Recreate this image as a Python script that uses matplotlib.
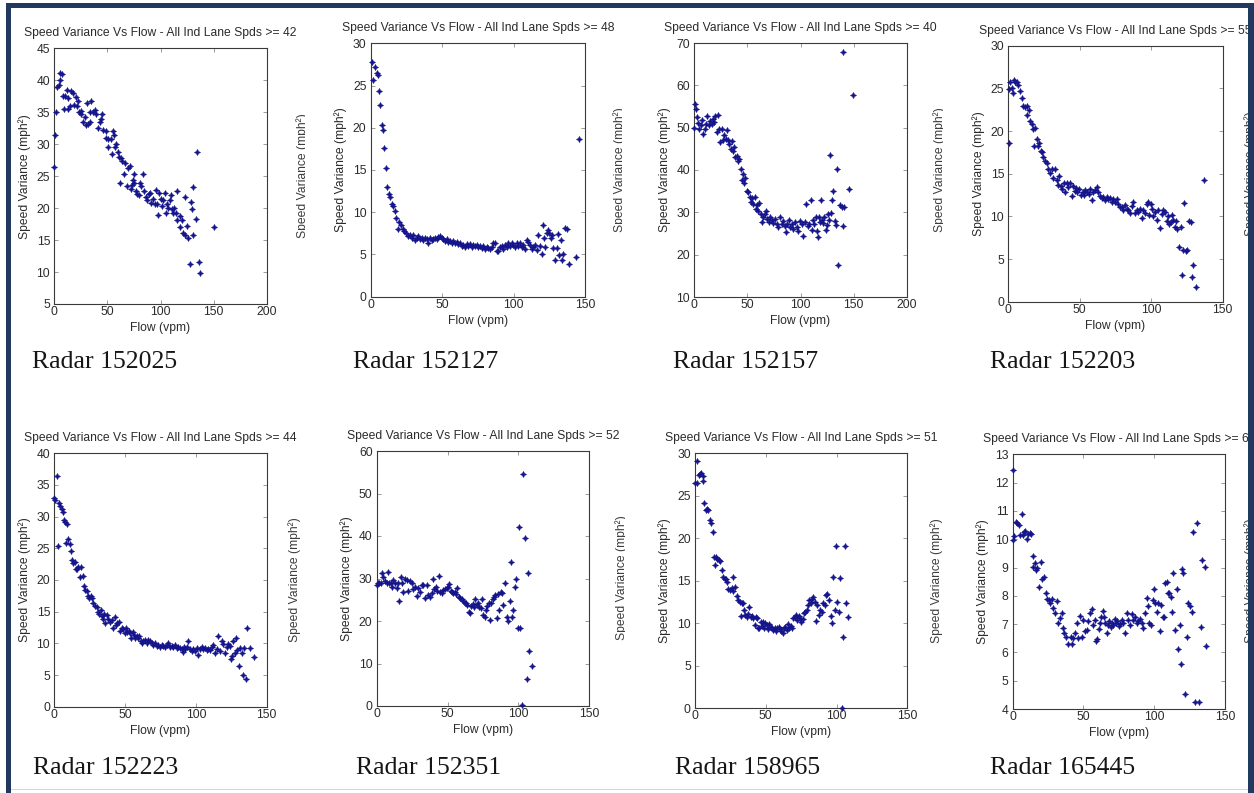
import numpy as np
import matplotlib
matplotlib.use('Agg')
import matplotlib.pyplot as plt
from matplotlib.patches import Rectangle
from matplotlib.transforms import Bbox, TransformedBbox

plt.rcParams['font.family'] = ['Liberation Sans', 'DejaVu Sans']

# ---- data ----
radars = ['152025', '152127', '152157', '152203', '152223', '152351', '158965', '165445']
spd_min = [42, 48, 40, 55, 44, 52, 51, 60]

flow_1 = [0, 0.5, 1.5, 3, 4, 5.5, 5, 7, 8.5, 10, 9.5, 11.5, 12.5, 13, 14.5, 16, 18, 18.5, 20, 21,
          22.5, 23.5, 25, 25.5, 27, 29, 30, 31, 32, 33.5, 35, 34, 36.5, 38, 39.5, 41, 43, 44.5, 44, 46,
          48.5, 49, 50.5, 50.5, 53, 54, 55.5, 56, 57, 58.5, 60, 61, 61.5, 63, 64, 65.5, 67, 68.5, 69.5, 71,
          72, 73, 74, 75.5, 75.5, 77, 78, 80, 81, 82, 83.5, 84.5, 86, 87, 89, 90, 91, 93, 94.5, 96,
          97, 98, 99, 100.5, 101.5, 102, 104, 105, 106, 107, 108.5, 109.5, 110.5, 111.5, 113, 114.5, 115.5, 116, 118, 118.5,
          120, 121, 123, 123.5, 125, 126, 128, 136, 137.5, 129, 130, 131, 131, 133, 134, 150.5]
var_1 = [26.5, 31.5, 35, 39, 39.3, 40, 41.2, 41, 37.5, 37.5, 35.5, 38.5, 37.2, 35.5, 36, 38.3, 38, 36.2, 37.4, 36,
         36.8, 35, 34.7, 35.2, 33.4, 34.3, 33, 36.5, 33.2, 33.4, 36.8, 35.1, 35, 35.3, 34.8, 32.5, 33.5, 34.8, 33.9, 32.2,
         32, 30.9, 30.8, 29.6, 30.8, 28.5, 32, 31.4, 29.6, 30.1, 28.8, 28, 24, 27.8, 27.3, 25.4, 27.1, 23.4, 26.2, 26.6,
         23, 23.6, 24.4, 25.4, 24, 22.6, 22.2, 22, 24, 23.4, 25.3, 22.6, 21.8, 21.3, 22.2, 22.4, 20.8, 21.4, 20.6, 22.8,
         20.7, 19, 22.3, 21.4, 20.4, 21.3, 22.4, 19.2, 20.6, 20, 21.3, 22.1, 19.8, 19.3, 20, 19.2, 22.7, 18.1, 18.7, 17,
         18.1, 16.1, 15.8, 21.8, 17.2, 15.3, 11.3, 11.5, 9.9, 20.9, 19.8, 23.3, 15.8, 18.3, 28.7, 17]

flow_2 = [0.7, 1.4, 3, 4.2, 5.4, 5.8, 6.8, 7.7, 8.4, 9.6, 10.7, 11.7, 12.8, 13.5, 14.7, 15.9, 17, 17.7, 18.9, 20,
          21.2, 22.4, 23.6, 24.7, 26.4, 27.5, 28.7, 29.9, 31, 32.2, 33.4, 34.5, 35.7, 36.9, 38, 39.2, 40.4, 41.5, 42.7, 43.9,
          45, 46.2, 47.4, 48.5, 49.7, 50.9, 52, 53.2, 54.4, 55.5, 56.7, 57.8, 59, 60.2, 61.4, 62.5, 63.7, 64.8, 66, 67.2,
          68.3, 69.5, 70.7, 71.8, 73, 74.2, 75.3, 76.5, 77.7, 78.8, 80, 81.2, 82.3, 83.5, 84.7, 85.8, 87, 88.2, 89.3, 90.5,
          91.7, 92.8, 94, 95.2, 96.3, 97.5, 98.7, 99.8, 101, 102.2, 103.3, 104.5, 105.7, 106.8, 108, 109.2, 110.3, 111.5, 112.6, 113.8,
          115, 116.1, 117.3, 118.5, 119.6, 120.4, 121.3, 122.2, 123.2, 124.1, 125, 126, 127.1, 127.8, 129, 130.2, 131.1, 132, 133, 133.7,
          134.8, 136, 137.2, 139, 143.7, 146]
var_2 = [27.8, 25.7, 27.2, 26.5, 26.2, 24.4, 22.7, 20.3, 19.7, 17.6, 15.2, 13, 12.2, 11.8, 11, 10.7, 10.2, 9.3, 8, 8.8,
         8.5, 8, 7.8, 7.5, 7.2, 7.3, 6.9, 7.3, 6.7, 7, 7.2, 6.8, 7, 6.7, 7, 6.8, 6.4, 6.9, 6.7, 6.8,
         7, 6.8, 7.1, 7.2, 7, 6.8, 6.6, 6.8, 6.5, 6.6, 6.4, 6.6, 6.3, 6.5, 6.2, 6.4, 6, 6.1, 5.9, 6.2,
         6, 6.2, 5.9, 6.1, 6, 6.1, 5.9, 6, 5.8, 6, 5.7, 5.9, 5.8, 5.6, 5.9, 6.3, 6.4, 5.4, 5.4, 5.9,
         6, 5.7, 6.1, 5.9, 6.3, 6, 6.4, 6.1, 5.9, 6.3, 6, 6.4, 5.9, 6.1, 5.7, 6.7, 6.5, 6.1, 5.7, 5.9,
         6.1, 5.5, 7.3, 6, 5, 8.5, 7, 5.9, 7.6, 7.9, 7.5, 6.9, 7.3, 5.8, 4.3, 5.8, 7.4, 4.9, 6.7, 4.3,
         5.1, 8.1, 8, 3.9, 4.7, 18.7]

flow_3 = [0, 0.6, 1.6, 2.2, 3.1, 4.7, 6.3, 7.5, 8.5, 10, 11, 12.2, 13.5, 14.8, 16.3, 17.3, 18.5, 19.8, 21, 22,
          23.2, 24.2, 25.7, 27.3, 28.3, 29.5, 30.5, 32, 33, 34.2, 35.2, 36.1, 37.4, 38.3, 39.9, 40.8, 42.4, 43.6, 44.6, 45.5,
          46.8, 48, 49.3, 50.9, 52.4, 53.4, 54.6, 55.6, 57.1, 58.1, 59.3, 60.3, 61.2, 62.5, 64, 65, 66.6, 67.5, 68.8, 70,
          71.3, 72.8, 74.4, 76, 77.6, 79.1, 80.7, 82.3, 83.8, 85.4, 86.3, 87.6, 89.2, 90.1, 91.7, 93.2, 94.8, 96.4, 97.9, 99.5,
          101.1, 102.7, 104.2, 105.2, 106.8, 108.3, 109.6, 110.5, 112.1, 113, 114.3, 115.2, 116.2, 117.1, 118.4, 119.3, 120.3, 121.5, 122.4, 123.7,
          124.6, 125.6, 126.8, 127.8, 128.8, 130, 131, 132.2, 133.1, 134.7, 135.6, 137.2, 138.8, 139.7, 140.3, 141, 146, 149.8]
var_3 = [50, 55.5, 54.5, 52.5, 51.1, 49.8, 50.6, 51.9, 48.6, 49.8, 50.8, 52.7, 50.6, 51.6, 50.8, 52.1, 51.3, 52.7, 49, 52.9,
         49.8, 46.6, 49.8, 47, 48.2, 47.4, 49.4, 47, 46.2, 45, 46.8, 44.6, 45.4, 43.1, 43.2, 42.1, 42.7, 40.3, 37.7, 39,
         36.9, 38, 35, 34.8, 33.6, 32.4, 33.5, 32, 33.6, 30.9, 31.7, 30.3, 32.2, 29.7, 27.7, 29, 29.7, 30.3, 28.5, 27.7,
         29, 28.1, 27.5, 28.5, 27.2, 26.5, 28.9, 27.2, 28, 26.7, 25.4, 27.2, 28.1, 26.5, 27.2, 26.1, 27.7, 26.5, 25.7, 28,
         27.2, 24.3, 27.7, 31.9, 26.7, 27.2, 33, 25.9, 28.1, 27.3, 28.9, 25.7, 24.2, 29, 27.7, 33, 28.3, 27.5, 29, 25.9,
         26.9, 29.7, 28.1, 43.6, 29.8, 32.8, 35, 28, 26.9, 40.3, 17.5, 31.7, 31.3, 26.7, 67.9, 31.3, 35.4, 57.8]

flow_4 = [0.5, 0.7, 1.2, 2.3, 3, 4, 4.9, 5.8, 6.8, 8.2, 9.3, 10.5, 11.7, 12.8, 13.3, 14.7, 15.2, 16.3, 17.5, 18.7,
          18.2, 19.8, 20.5, 21.7, 22.6, 23.6, 24.5, 25.7, 26.8, 28, 29.2, 30.3, 31.5, 32.7, 33.8, 35, 35.7, 36.6, 37.8, 39,
          39.9, 40.8, 42, 43.2, 44.3, 45, 46.4, 47.4, 48.3, 49.7, 50.6, 52, 52.9, 53.9, 55.3, 56.2, 57.1, 58.3, 59.5, 60.6,
          61.8, 62.7, 64.1, 65.3, 66.5, 67.6, 68.8, 70, 71.1, 72.3, 73.5, 74.6, 75.8, 77, 78.1, 79.3, 80.5, 81.6, 82.8, 84,
          85.1, 86.3, 87.5, 88.6, 89.8, 91, 92.1, 93.3, 94.5, 95.6, 96.8, 98, 98.7, 99.6, 100.3, 101.5, 102.6, 103.8, 105, 106.1,
          107.3, 108.5, 109.6, 110.8, 111.7, 112.7, 113.6, 114.5, 115.5, 116.6, 117.3, 118.3, 119.7, 120.6, 121.5, 122.5, 123.2, 124.3, 125.3, 126.7,
          127.6, 128.3, 129.5, 131.3, 137.2]
var_4 = [18.55, 24.9, 25.8, 25.1, 24.4, 26, 25.7, 25.8, 25.4, 24.7, 23.9, 22.9, 22.8, 22.9, 21.9, 22.5, 21.2, 20.8, 20.2, 20.3,
         18.2, 19.1, 18.2, 18.6, 17.7, 17.5, 17, 16.5, 16.3, 15.6, 15.1, 15.5, 14.5, 15.6, 14.3, 13.7, 14.7, 13.6, 13.2, 13.9,
         12.9, 13.9, 13.4, 13.9, 12.4, 13.5, 13, 13.3, 12.8, 13.2, 12.5, 12.8, 12.5, 13.1, 12.9, 12.6, 13.2, 11.9, 12.9, 13.1,
         13.4, 12.8, 12.4, 12.1, 12.3, 11.9, 12.3, 12, 12.1, 11.7, 12, 11.7, 12, 11.4, 11.1, 11.1, 10.8, 11.3, 10.9, 10.7,
         10.4, 11.2, 11.7, 10.4, 10.8, 10.5, 10.9, 9.8, 10.7, 10.4, 11.4, 11.7, 10.2, 11.5, 10.9, 10, 10.5, 9.6, 10.8, 8.6,
         10.3, 10.7, 10.5, 9.4, 10, 9.1, 9.3, 10.2, 9.6, 8.7, 9.5, 8.5, 6.4, 8.8, 3.1, 6.1, 11.6, 5.9, 6, 9.4,
         9.3, 2.9, 4.3, 1.7, 14.3]

flow_5 = [0, 0.7, 1.6, 2.4, 3.3, 4.2, 5.2, 6.1, 6.8, 7.5, 8.5, 9.2, 9.9, 10.8, 11.5, 12.5, 13.4, 14.6, 15.3, 16.2,
          17, 18.1, 18.8, 20, 21, 21.9, 22.8, 23.8, 24.7, 25.7, 26.6, 27.5, 28.7, 29.9, 31.1, 31.8, 32.7, 33.4, 34.1, 35.1,
          36, 37, 38.1, 39.3, 40.5, 41.7, 42.6, 43.6, 44.5, 45.4, 46.4, 47.6, 48.7, 49.9, 50.6, 51.6, 52.5, 53.4, 54.4, 55.3,
          56.3, 57.2, 58.2, 59.1, 60, 61, 61.9, 62.9, 64, 65.2, 66.4, 67.6, 68.8, 69.9, 71.1, 72.3, 73.5, 74.6, 75.8, 77,
          78.2, 79.3, 80.5, 81.7, 82.9, 84.1, 85.2, 86.4, 87.6, 88.8, 89.9, 90.7, 91.6, 92.5, 93.5, 94.7, 95.8, 97, 98.2, 99.4,
          100.5, 101.7, 102.9, 104.1, 105.2, 106.4, 107.6, 108.8, 110, 111.1, 112.3, 113.5, 114.7, 115.8, 117, 118.2, 119.4, 120.6, 121.7, 122.9,
          124.1, 124.8, 125.7, 126.4, 127.6, 128.3, 129.3, 130.2, 131.1, 132.3, 133.5, 134.2, 135.4, 136.3, 138.2, 141]
var_5 = [33, 32.7, 36.4, 25.3, 32.1, 31.7, 31.2, 30.8, 29.4, 29.1, 25.8, 28.8, 26.4, 25.7, 24.6, 23.1, 22.7, 22.9, 21.8, 21.7,
         22, 20.5, 22, 20.6, 19.1, 18.4, 18.2, 17.4, 17.1, 17.5, 17.1, 16.3, 15.9, 15.8, 15, 14.6, 15.2, 14.3, 13.8, 14.6,
         13.2, 14.5, 13.8, 13.3, 13.7, 12.5, 14.2, 12.9, 13.2, 13.4, 12, 12.5, 12.2, 11.7, 12.5, 11.8, 12, 11.7, 10.9, 11.8,
         11.3, 10.9, 11.2, 10.8, 11.1, 10.4, 10.1, 10.4, 10.6, 10.1, 10.6, 10.4, 10.1, 9.7, 10, 9.6, 9.7, 9.5, 9.7, 9.6,
         9.4, 9.7, 10, 9.4, 9.6, 9.4, 9.7, 9.2, 9.5, 9.2, 9.1, 8.7, 9.4, 9.1, 9.5, 10.3, 9.1, 8.8, 9.1, 8.8,
         9.2, 8.2, 9.1, 9.4, 9.1, 9.2, 8.9, 9.1, 8.9, 9.4, 9.7, 8.5, 9.1, 11.1, 8.8, 10.3, 9.9, 8.5, 9.5, 9.9,
         9.6, 7.6, 8, 10.4, 8.4, 10.8, 8.9, 6.4, 9.2, 8.5, 5, 9.2, 4.3, 12.5, 9.2, 7.9]

flow_6 = [0, 0.7, 1.9, 2.8, 3.8, 4.7, 5.9, 7.1, 8.2, 8.9, 9.9, 10.8, 11.8, 12.9, 14.1, 15.3, 16, 16.9, 17.9, 18.8,
          20, 21.2, 22.3, 23.5, 24.7, 25.9, 27, 28.2, 29.4, 30.6, 31.7, 32.9, 34.1, 35.3, 36.4, 37.6, 38.8, 40, 40.7, 41.9,
          42.8, 44, 44.7, 45.9, 47, 48.2, 49.4, 50.6, 51.3, 52.2, 53.1, 54.1, 55, 56, 56.9, 57.8, 58.8, 60, 61.1, 62.1,
          63, 64, 64.9, 65.8, 66.8, 67.7, 68.7, 69.6, 70.5, 71.5, 72.4, 73.4, 74.3, 75.2, 76.2, 77.1, 78.1, 79, 79.9, 80.9,
          81.8, 82.8, 83.7, 84.6, 85.6, 86.5, 87.5, 88.4, 89.3, 90.5, 91.7, 92.9, 94, 94.5, 95.5, 96.4, 97.6, 98.3, 99.5, 100.6,
          101.1, 102.3, 103.5, 104.6, 105.8, 107, 107.7, 109.3]
var_6 = [28.5, 29, 29, 28.9, 31.2, 30.3, 29.5, 29, 31.6, 29, 29, 27.9, 29.6, 29, 27.7, 29, 24.8, 30.3, 29, 26.9,
         30, 29.6, 27.1, 29.4, 29, 27.5, 27.9, 25.9, 27.7, 26.9, 28.5, 28.5, 25.3, 28.5, 26.1, 25.6, 26.7, 30, 27.5, 28.1,
         27.1, 30.6, 26.9, 26.5, 27.3, 27.5, 27.7, 27.9, 28.7, 27.1, 26.9, 26.7, 26.9, 26.4, 27.7, 25.7, 25.3, 25.1, 24.8, 24.3,
         24.2, 23.8, 22.2, 22, 23.5, 24, 23.4, 25.1, 23.8, 24.2, 23.4, 23, 25.1, 21.4, 20.9, 22.6, 23.5, 24.2, 20.2, 24.3,
         25.1, 25.7, 26.1, 20.6, 26.4, 22.6, 26.9, 26.5, 23.8, 29, 21, 20, 24.8, 34, 21, 22.5, 28.1, 29.8, 18.3, 42.2,
         18.4, 0.2, 54.6, 39.5, 6.3, 31.4, 13, 9.3]

flow_7 = [0, 1.2, 1.6, 2.6, 3.5, 4.5, 5.4, 5.9, 6.6, 7.8, 8.7, 9.4, 10.6, 11.3, 12.5, 13.4, 14.1, 14.8, 15.8, 16.7,
          17.7, 18.8, 20, 21.2, 21.9, 22.8, 23.5, 24.7, 25.9, 26.6, 27.1, 28.3, 29.4, 30.6, 31.8, 32.5, 33, 34.1, 34.6, 35.6,
          36.5, 37.7, 38.4, 39.3, 40.3, 41.2, 42.4, 43.1, 44, 44.7, 45.4, 46.4, 47.1, 47.8, 48.7, 49.7, 50.6, 51.6, 52.5, 53.4,
          54.4, 55.3, 56.3, 57.2, 58.2, 59.1, 60, 61, 61.9, 62.9, 63.8, 64.8, 65.7, 66.6, 67.6, 68.5, 69.5, 70.4, 71.3, 72.3,
          73.2, 74.2, 75.1, 76.1, 77, 77.9, 78.9, 79.8, 80.8, 81.7, 82.6, 83.6, 84.5, 85.5, 86.4, 87.4, 88.3, 89.5, 90.6, 91.8,
          92.5, 93.5, 94.7, 95.8, 96.5, 97.7, 98.7, 99.8, 100.5, 101.7, 102.4, 103.6, 104.3, 106, 106.7, 108.3]
var_7 = [26.5, 26.5, 29.1, 27.5, 27.6, 27.7, 27.3, 26.7, 24.1, 23.3, 23.5, 23.3, 22.2, 21.8, 20.8, 17.8, 16.9, 17.8, 17.6, 17.4,
         17.3, 16.3, 15.4, 15.2, 15.2, 14.9, 14, 13.9, 14.1, 15.4, 13.8, 14.3, 13.2, 12.8, 12.5, 10.9, 12.4, 12.4, 11.6, 11,
         10.8, 11.1, 11.9, 10.8, 10.9, 10.6, 9.8, 10.8, 10.6, 9.4, 9.5, 10.2, 9.7, 10.1, 9.5, 10, 9.8, 9.3, 9.9, 9.6,
         9.4, 9.2, 9.5, 9.1, 9.4, 9.6, 9.3, 9.1, 8.9, 9.4, 9.6, 9.2, 9.9, 9.5, 9.7, 9.4, 10.6, 10.8, 11, 10.4,
         10.9, 10.6, 10.1, 10.5, 11.2, 11.3, 11.6, 12.2, 12.8, 12.4, 12.9, 13.1, 12.5, 10.3, 12.2, 11, 11.6, 11.3, 12.4, 12.2,
         13.3, 13.4, 12.7, 10.9, 10, 15.4, 11.6, 19.1, 12.5, 11.3, 15.3, 0, 8.4, 19.1, 12.4, 10.7]

flow_8 = [0, 0, 0.9, 2.4, 3.3, 4.2, 5.2, 6.4, 7.1, 8, 8.9, 9.9, 11.1, 12.2, 13.2, 14.1, 14.6, 15.8, 16.5, 17.5,
          18.8, 19.8, 20.7, 22.1, 23.5, 24.5, 25.4, 26.4, 27.5, 28.7, 29.9, 31.1, 32.3, 33.4, 34.6, 35.3, 36.3, 37.7, 39.3, 41,
          42, 42.9, 44.1, 45.2, 46.4, 47.6, 48.7, 49.9, 51.1, 52.3, 53.4, 54.6, 55.8, 57, 57.9, 58.9, 59.8, 60.7, 61.7, 62.6,
          63.6, 64.5, 65.5, 66.4, 67.3, 68.3, 69.2, 70.2, 71.1, 72, 73, 73.9, 74.9, 75.8, 77, 78.2, 79.3, 80.5, 81.7, 82.9,
          84.1, 85.2, 86.4, 87.6, 88.8, 89.9, 91.1, 92.3, 93.5, 94.7, 95.4, 96.5, 97.7, 98.9, 99.8, 100.8, 101.7, 102.9, 104.1, 105,
          106, 106.9, 107.6, 108.8, 109.7, 110.7, 111.6, 112.6, 113.5, 114.7, 115.8, 116.8, 118.2, 118.9, 119.6, 120.6, 122, 122.9, 124.1, 125.3,
          126.4, 127.6, 128.8, 130.4, 131.8, 132.8, 134, 135.9, 136.6]
var_8 = [12.45, 9.97, 10.1, 10.6, 10.56, 10.5, 10.15, 10.9, 10.15, 10.27, 10.3, 10, 10.2, 10.23, 10.2, 9.4, 9.03, 9.17, 8.9, 8.97,
         8.3, 9.2, 8.6, 8.65, 8.1, 7.9, 7.85, 7.73, 7.87, 7.56, 7.4, 7.83, 7.03, 7.2, 7.4, 6.85, 6.7, 6.56, 6.3, 6.55,
         6.3, 6.5, 6.7, 7.03, 6.5, 7.27, 6.55, 7.15, 6.77, 6.8, 7.1, 7.38, 7.52, 6.97, 7.15, 6.42, 6.46, 6.82, 7.05, 7.26,
         7.48, 7.24, 7.03, 6.67, 6.97, 7.12, 6.89, 7.05, 6.97, 7.17, 7.05, 7.12, 6.93, 7, 7.14, 7.03, 6.67, 7.4, 7.14, 6.97,
         7.36, 7.14, 7.24, 7.03, 7.12, 7.17, 7.03, 6.85, 7.4, 7.91, 7.64, 7.03, 6.97, 7.85, 8.23, 7.73, 7.44, 7.73, 6.77, 7.68,
         7.24, 7.24, 8.44, 8.5, 8.11, 8.11, 7.95, 7.44, 8.82, 6.8, 8.23, 6.11, 6.97, 5.59, 8.94, 8.82, 4.53, 6.53, 7.76, 7.64,
         7.44, 10.27, 4.23, 10.56, 4.23, 6.89, 9.27, 9.01, 6.23]

flows = [flow_1, flow_2, flow_3, flow_4, flow_5, flow_6, flow_7, flow_8]
variances = [var_1, var_2, var_3, var_4, var_5, var_6, var_7, var_8]

xlims = [(0, 200), (0, 150), (0, 200), (0, 150), (0, 150), (0, 150), (0, 150), (0, 150)]
ylims = [(5, 45), (0, 30), (10, 70), (0, 30), (0, 40), (0, 60), (0, 30), (4, 13)]
ysteps = [5, 5, 10, 5, 5, 10, 5, 1]

# ---- layout (pixels, origin top-left) ----
W, H = 1254, 793
boxes = [(54.3, 48.3, 266.7, 304), (370.7, 43.3, 585, 296.7), (694.3, 43, 906.7, 297), (1008.3, 45.7, 1222.7, 301.7),
         (54.3, 453.3, 266.7, 706.7), (376.7, 451, 589.3, 706), (695, 453.3, 907.3, 708.3), (1012.7, 454.3, 1225, 709)]
cap_x = [32, 353, 673, 990, 33, 356, 675, 990]
cap_base = [368, 368, 368, 368, 774, 774, 774, 774]
# cropped y-labels of neighbouring figures: (left px, centre y px, clip right px)
ghosts = [(296, 176, 305), (613, 170, 622), (933, 170, 943), (1244, 174, None),
          (288, 580, None), (615, 578, 625), (930, 581, None), (1244, 581, None)]

fs = 8.7
dot = '#14148c'
txt = '#2b2b2b'

fig = plt.figure(figsize=(W / 100, H / 100), dpi=100)


def fx(x):
    return x / W


def fy(y):
    return 1 - y / H


def clip_right(t, xr):
    t.set_clip_box(TransformedBbox(Bbox.from_extents(0, 0, fx(xr), 1), fig.transFigure))
    t.set_clip_on(True)


for i in range(8):
    l, t, r, b = boxes[i]
    ax = fig.add_axes([fx(l), fy(b), (r - l) / W, (b - t) / H])
    ax.scatter(flows[i], variances[i], s=20, marker=(4, 1, 0), color=dot, linewidths=0.3,
               edgecolors=dot, clip_on=False, zorder=3)
    ax.set_xlim(*xlims[i])
    ax.set_ylim(*ylims[i])
    ax.set_xticks(np.arange(xlims[i][0], xlims[i][1] + 1, 50))
    ax.set_yticks(np.arange(ylims[i][0], ylims[i][1] + 1, ysteps[i]))
    ax.tick_params(direction='in', top=True, right=True, length=3, width=0.6, color='#8a8a8a',
                   labelsize=fs, labelcolor=txt)
    ax.tick_params(axis='y', pad=3)
    ax.tick_params(axis='x', pad=1.5)
    for sp in ax.spines.values():
        sp.set_color('#3a3a3a')
        sp.set_linewidth(0.8)

    cx = (l + r) / 2
    fig.text(fx(cx), fy(t - 15), 'Speed Variance Vs Flow - All Ind Lane Spds >= %d' % spd_min[i],
             ha='center', va='center', fontsize=fs, color=txt)
    xl = fig.text(fx(cx), fy(b + 24), 'Flow (vpm)', ha='center', va='center', fontsize=fs, color=txt)
    if i == 7:
        xl.set_clip_box(TransformedBbox(Bbox.from_extents(0, fy(741), 1, 1), fig.transFigure))
        xl.set_clip_on(True)
    fig.text(fx(l - 30), fy((t + b) / 2), 'Speed Variance (mph²)', rotation=90,
             ha='center', va='center', fontsize=fs, color=txt)
    fig.text(fx(cap_x[i]), fy(cap_base[i]), 'Radar ' + radars[i], ha='left', va='baseline',
             fontsize=18.5, family='Liberation Serif', color='#161616')

    gx, gy, gclip = ghosts[i]
    g = fig.text(fx(gx), fy(gy), 'Speed Variance (mph²)', rotation=90, ha='left', va='center',
                 fontsize=fs, color='#3c3c3c')
    if gclip is not None:
        clip_right(g, gclip)

# page frame
navy = '#21395e'
for (x0, y0, x1, y1) in [(6, 3, 11, 793), (6, 3, 1254, 8), (1248, 3, 1254, 793)]:
    fig.add_artist(Rectangle((fx(x0), fy(y1)), (x1 - x0) / W, (y1 - y0) / H, transform=fig.transFigure,
                             facecolor=navy, edgecolor='none', zorder=20))
fig.add_artist(Rectangle((fx(11), fy(790)), 1237 / W, 1.5 / H, transform=fig.transFigure,
                         facecolor='#d4d4d4', edgecolor='none', zorder=19))

fig.savefig('out.png', dpi=100, facecolor='white')
